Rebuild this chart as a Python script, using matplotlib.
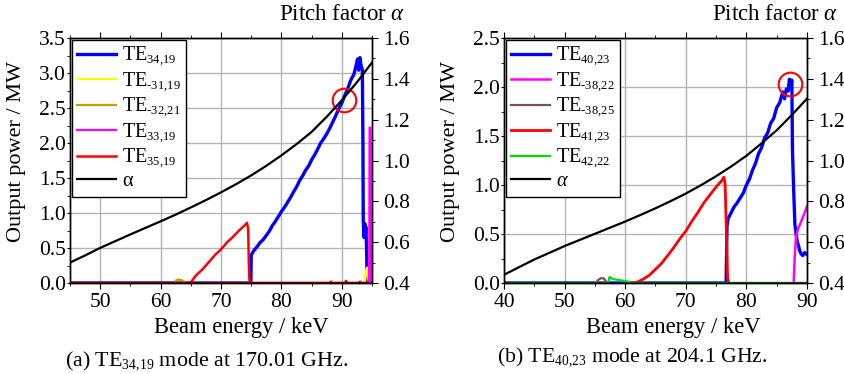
import numpy as np
import matplotlib
matplotlib.use('Agg')
import matplotlib.pyplot as plt
import matplotlib._mathtext as mt
from matplotlib.ticker import MultipleLocator, FormatStrFormatter

plt.rcParams['font.family'] = ['Liberation Serif', 'DejaVu Serif']
plt.rcParams['mathtext.fontset'] = 'custom'
plt.rcParams['mathtext.rm'] = 'Liberation Serif'
plt.rcParams['mathtext.it'] = 'Liberation Serif:italic'
mt.SHRINK_FACTOR = 0.62  # smaller subscripts, as in the original

# ---- panel (a): TE34,19 at 170.01 GHz ----
a_alpha_x = [45, 47.5, 50, 52.5, 55, 57.5, 60, 62.5, 65, 67.5, 70, 72.5, 75, 77.5, 80, 82.5,
             85, 87.5, 90, 92.5, 95]
a_alpha_y = [0.50, 0.535, 0.572, 0.605, 0.638, 0.670, 0.702, 0.735, 0.770, 0.806, 0.844, 0.884,
             0.927, 0.974, 1.025, 1.080, 1.140, 1.214, 1.295, 1.383, 1.48]

a_blue_x = [45, 74.95, 75.0, 75.5, 76.0, 76.5, 77.0, 77.5, 78.0, 78.5, 79.0, 79.5, 80.0, 80.5, 81.0,
            81.5, 82.0, 82.5, 83.0, 83.5, 84.0, 84.5, 85.0, 85.5, 86.0, 86.5, 87.0, 87.5, 88.0,
            88.5, 89.0, 89.5, 90.0, 90.5, 91.0, 91.5, 92.0, 92.3, 92.6, 92.8, 93.0, 93.2, 93.4,
            93.5, 93.55, 93.7, 93.8, 93.9, 94.0, 94.1, 94.2]
a_blue_y = [0, 0, 0.40, 0.47, 0.52, 0.58, 0.62, 0.68, 0.74, 0.82, 0.88, 0.95, 1.02, 1.08, 1.15,
            1.22, 1.30, 1.37, 1.46, 1.53, 1.61, 1.67, 1.76, 1.83, 1.91, 2.00, 2.06, 2.13, 2.21,
            2.30, 2.39, 2.49, 2.57, 2.68, 2.78, 2.90, 2.98, 3.08, 3.20, 3.04, 3.22, 3.10, 3.05,
            2.00, 0.90, 0.65, 0.85, 0.70, 0.80, 0.50, 0.0]
a_yellow_x = [93.8, 93.9, 94.0, 94.2, 94.3, 94.4]
a_yellow_y = [0, 0.12, 0.18, 0.22, 0.05, 0]
a_olive_x = [45, 62.3, 62.6, 63.0, 63.5, 63.9, 64.2, 95]
a_olive_y = [0, 0, 0.04, 0.05, 0.04, 0.02, 0, 0]
a_magenta_x = [94.3, 94.45, 94.55, 94.6, 94.75, 94.8]
a_magenta_y = [0, 0.05, 0.3, 2.22, 2.22, 0]
a_red_x = [45, 64.8, 65.2, 65.6, 66, 67, 68, 69, 70, 71, 72, 73, 73.5, 74, 74.3, 74.5, 74.6,
           74.7, 74.8, 88.0, 88.2, 88.4, 90.5, 90.7, 90.9, 92.8, 93.0, 93.2, 95]
a_red_y = [0, 0, 0.03, 0.08, 0.12, 0.20, 0.30, 0.40, 0.48, 0.58, 0.66, 0.75, 0.79, 0.83, 0.86,
           0.78, 0.30, 0.05, 0, 0, 0.02, 0, 0, 0.03, 0, 0, 0.02, 0, 0]
a_circle = (90.3, 2.62)

# ---- panel (b): TE40,23 at 204.1 GHz ----
b_alpha_x = [40, 42.5, 45, 47.5, 50, 52.5, 55, 57.5, 60, 62.5, 65, 67.5, 70, 72.5, 75, 77.5,
             80, 82.5, 85, 87.5, 90]
b_alpha_y = [0.44, 0.478, 0.515, 0.548, 0.581, 0.611, 0.641, 0.671, 0.701, 0.733, 0.766, 0.801,
             0.838, 0.879, 0.923, 0.971, 1.023, 1.084, 1.148, 1.223, 1.303]

b_blue_x = [40, 76.65, 76.8, 77.0, 77.5, 78.0, 78.5, 79.0, 79.5, 80.0, 80.5, 81.0, 81.5, 82.0,
            82.5, 83.0, 83.5, 84.0, 84.5, 85.0, 85.5, 86.0, 86.3, 86.6, 86.9, 87.1, 87.3, 87.5,
            87.6, 87.8, 88.0, 88.2, 88.4, 88.6, 88.8, 89.0, 89.3, 89.6, 90.0]
b_blue_y = [0, 0, 0.58, 0.66, 0.72, 0.78, 0.82, 0.87, 0.92, 1.00, 1.06, 1.15, 1.22, 1.32,
            1.38, 1.48, 1.53, 1.63, 1.68, 1.79, 1.84, 1.95, 1.88, 1.98, 1.96, 2.08, 2.02, 2.07,
            1.36, 0.95, 0.60, 0.50, 0.42, 0.38, 0.33, 0.30, 0.28, 0.31, 0.29]
b_magenta_x = [87.8, 88.0, 88.2, 88.5, 89.0, 89.5, 90.0]
b_magenta_y = [0, 0.30, 0.48, 0.55, 0.62, 0.70, 0.78]
b_brown_x = [55.2, 55.5, 56.0, 56.5, 56.9, 57.1]
b_brown_y = [0, 0.03, 0.05, 0.045, 0.01, 0]
b_red_x = [61.3, 62, 63, 64, 65, 66, 67, 68, 69, 70, 71, 72, 73, 74, 75, 76, 76.3, 76.5, 76.7,
           76.9, 77.1]
b_red_y = [0, 0.01, 0.04, 0.08, 0.14, 0.20, 0.28, 0.36, 0.45, 0.53, 0.63, 0.72, 0.82, 0.90,
           0.98, 1.05, 1.08, 1.00, 0.50, 0.05, 0]
b_green_x = [40, 57.2, 57.4, 58.0, 59.0, 60.0, 60.8, 61.0, 90]
b_green_y = [0, 0, 0.06, 0.04, 0.03, 0.02, 0.01, 0, 0]
b_circle = (87.2, 2.03)

W, H = 845, 374
fig = plt.figure(figsize=(W / 100, H / 100), dpi=100)


def setup(ax, ax2, xlim, ymax):
    ax.set_xlim(*xlim)
    ax.set_ylim(0, ymax)
    ax2.set_ylim(0.4, 1.6)
    ax.xaxis.set_major_locator(MultipleLocator(10))
    ax.xaxis.set_minor_locator(MultipleLocator(5))
    ax.yaxis.set_major_locator(MultipleLocator(0.5))
    ax.yaxis.set_minor_locator(MultipleLocator(0.25))
    ax.yaxis.set_major_formatter(FormatStrFormatter('%.1f'))
    ax2.yaxis.set_major_locator(MultipleLocator(0.2))
    ax2.yaxis.set_minor_locator(MultipleLocator(0.1))
    ax2.yaxis.set_major_formatter(FormatStrFormatter('%.1f'))
    ax.grid(True, which='major', color='#b4b4b4', lw=1.0)
    ax.set_axisbelow(True)
    ax.tick_params(which='both', direction='out', labelsize=15.5)
    ax.tick_params(axis='x', which='major', length=4, pad=3)
    ax.tick_params(axis='x', which='minor', length=2.5)
    ax.tick_params(axis='x', which='both', top=True)
    ax.tick_params(axis='y', which='major', length=2.5, pad=0.5)
    ax.tick_params(axis='y', which='minor', length=2)
    ax2.tick_params(which='both', direction='out', labelsize=15.5)
    ax2.tick_params(which='major', length=4, pad=4)
    ax2.tick_params(which='minor', length=2.5)
    for s in list(ax.spines.values()) + list(ax2.spines.values()):
        s.set_linewidth(1.0)


def leg(ax2, handles, labels):
    lg = ax2.legend(handles, labels, loc='upper left', fontsize=14.5, frameon=True,
                    fancybox=False, edgecolor='black', framealpha=1, handlelength=1.95,
                    handletextpad=0.3, labelspacing=0.12, borderpad=0.25,
                    borderaxespad=0.1)
    lg.get_frame().set_linewidth(1.0)
    return lg


# panel (a)
axL = fig.add_axes([70 / W, 1 - 283 / H, 302 / W, 245 / H])
axL2 = axL.twinx()
setup(axL, axL2, (45, 95), 3.5)
h1, = axL.plot(a_blue_x, a_blue_y, color='#0000ff', lw=2.4)
h2, = axL.plot(a_yellow_x, a_yellow_y, color='#ffff00', lw=1.6)
h3, = axL.plot(a_olive_x, a_olive_y, color='#cc9900', lw=1.6)
h4, = axL.plot(a_magenta_x, a_magenta_y, color='#ff00ff', lw=1.6)
h5, = axL.plot(a_red_x, a_red_y, color='#ff0000', lw=1.8)
axL.plot([45, 95], [0, 0], color='#990000', lw=1.6)
h6, = axL2.plot(a_alpha_x, a_alpha_y, color='black', lw=1.6)
axL.plot(*a_circle, 'o', ms=17, mfc='none', mec='#ff0000', mew=1.5)
leg(axL2, [h1, h2, h3, h4, h5, h6],
    [r'TE$_{34,\!19}$', r'TE$_{\text{-}31,\!19}$', r'TE$_{\text{-}32,\!21}$',
     r'TE$_{33,\!19}$', r'TE$_{35,\!19}$', 'α'])

# panel (b)
axR = fig.add_axes([504 / W, 1 - 283 / H, 303 / W, 245 / H])
axR2 = axR.twinx()
setup(axR, axR2, (40, 90), 2.5)
g1, = axR.plot(b_blue_x, b_blue_y, color='#0000ff', lw=2.4)
g2, = axR.plot(b_magenta_x, b_magenta_y, color='#ff00ff', lw=1.8)
g3, = axR.plot(b_brown_x, b_brown_y, color='#7f5050', lw=1.6)
g4, = axR.plot(b_red_x, b_red_y, color='#ff0000', lw=2.0)
g5, = axR.plot(b_green_x, b_green_y, color='#00dd00', lw=1.6)
axR.plot([40, 57.2], [0, 0], color='#007a00', lw=1.6)
axR.plot([61, 90], [0, 0], color='#007a00', lw=1.6)
g6, = axR2.plot(b_alpha_x, b_alpha_y, color='black', lw=1.6)
axR.plot(*b_circle, 'o', ms=17, mfc='none', mec='#ff0000', mew=1.5)
leg(axR2, [g1, g2, g3, g4, g5, g6],
    [r'TE$_{40,\!23}$', r'TE$_{\text{-}38,\!22}$', r'TE$_{\text{-}38,\!25}$',
     r'TE$_{41,\!23}$', r'TE$_{42,\!22}$', r'$\alpha$'])

# labels
for xc, yc in [(17, 151), (450, 151)]:
    fig.text(xc / W, 1 - yc / H, 'Output power / MW', rotation=90, ha='center', va='center',
             fontsize=16)
for xc in [241, 673]:
    fig.text(xc / W, 1 - 328 / H, 'Beam energy / keV', ha='center', va='center',
             fontsize=16.3)
for xr in [405, 838]:
    fig.text(xr / W, 1 - 15 / H, r'Pitch factor $\alpha$', ha='right', va='center',
             fontsize=16.5)
fig.text(207 / W, 1 - 361 / H, r'(a) TE$_{34,\!19}$ mode at 170.01 GHz.', ha='center',
         va='center', fontsize=15.8)
fig.text(632 / W, 1 - 357 / H, r'(b) TE$_{40,\!23}$ mode at 204.1 GHz.', ha='center',
         va='center', fontsize=15.7)

fig.savefig('out.png', dpi=100)
